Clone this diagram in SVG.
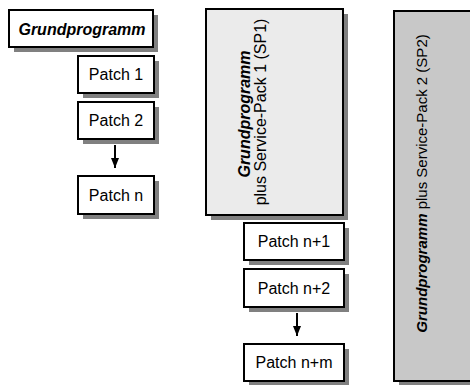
<svg xmlns="http://www.w3.org/2000/svg" width="470" height="385" viewBox="0 0 470 385">
<defs>
<style>
.bx{fill:#fff;stroke:#000;stroke-width:2}
.t{font-family:"Liberation Sans",Arial,sans-serif;font-size:16px;fill:#000}
.b{font-weight:bold;font-style:italic}
.c{text-anchor:middle}
.ar{stroke:#000;stroke-width:2;fill:none}
.sh{fill:#808080;stroke:none}
</style>
<marker id="ah" viewBox="0 0 10 8" refX="10" refY="4" markerWidth="10" markerHeight="8" markerUnits="userSpaceOnUse" orient="auto"><path d="M0,0L10,4L0,8z" fill="#000"/></marker>
</defs>
<rect x="0" y="0" width="470" height="385" fill="#ffffff"/>
<g id="sp2">
<rect class="sh" x="399" y="16" width="80" height="370"/>
<rect class="bx" x="394" y="11" width="80" height="370" style="fill:#c8c8c8"/>
<text class="t" transform="translate(427,183.5) rotate(-90)" text-anchor="middle" style="font-size:15px"><tspan class="b">Grundprogramm</tspan> plus Service-Pack 2 (SP2)</text>
</g>
<g id="sp1">
<rect class="sh" x="211" y="14" width="137" height="206"/>
<rect class="bx" x="206" y="9" width="137" height="206" style="fill:#ebebeb"/>
<text class="t b c" transform="translate(250,114) rotate(-90)">Grundprogramm</text>
<text class="t c" transform="translate(266,112) rotate(-90)">plus Service-Pack 1 (SP1)</text>
</g>
<g id="grundprogramm">
<rect class="sh" x="14" y="15" width="144" height="37"/>
<rect class="bx" x="9" y="10" width="144" height="37"/>
<text class="t b c" x="82" y="35">Grundprogramm</text>
</g>
<g id="patch1">
<rect class="sh" x="83" y="61" width="76" height="37"/>
<rect class="bx" x="78" y="56" width="76" height="37"/>
<text class="t c" x="116" y="80">Patch 1</text>
</g>
<g id="patch2">
<rect class="sh" x="83" y="107" width="76" height="37"/>
<rect class="bx" x="78" y="102" width="76" height="37"/>
<text class="t c" x="116" y="126">Patch 2</text>
</g>
<g id="patchn">
<rect class="sh" x="83" y="181" width="76" height="38"/>
<rect class="bx" x="78" y="176" width="76" height="38"/>
<text class="t c" x="116" y="201">Patch n</text>
</g>
<g id="patchn1">
<rect class="sh" x="249" y="228" width="100" height="37"/>
<rect class="bx" x="244" y="223" width="100" height="37"/>
<text class="t c" x="294" y="247">Patch n+1</text>
</g>
<g id="patchn2">
<rect class="sh" x="249" y="274" width="100" height="38"/>
<rect class="bx" x="244" y="269" width="100" height="38"/>
<text class="t c" x="294" y="294">Patch n+2</text>
</g>
<g id="patchnm">
<rect class="sh" x="249" y="349" width="100" height="37"/>
<rect class="bx" x="244" y="344" width="100" height="37"/>
<text class="t c" x="294" y="368">Patch n+m</text>
</g>
<g id="connectors">
<line class="ar" x1="115" y1="145" x2="115" y2="168" marker-end="url(#ah)"/>
<line class="ar" x1="297" y1="313" x2="297" y2="336" marker-end="url(#ah)"/>
</g>
</svg>
